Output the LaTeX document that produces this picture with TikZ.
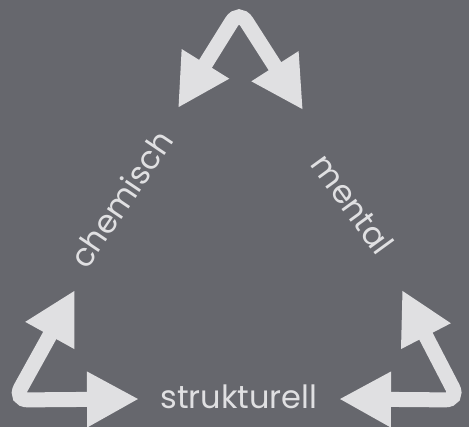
\documentclass[tikz,border=0pt]{standalone}
\usepackage{fontspec}
\setmainfont{Poppins}
\definecolor{boardgrey}{RGB}{102,103,109}
\definecolor{chalkwhite}{RGB}{224,224,226}
\usetikzlibrary{arrows.meta}
\tikzset{
  chalktip/.tip={Triangle[length=52pt, width=52pt]},
  chalkarrow/.style={draw=chalkwhite, line width=15pt, rounded corners=14pt, chalktip-chalktip},
  chalklabel/.style={text=chalkwhite, font=\fontsize{32}{36}\selectfont, inner sep=0pt}
}

\begin{document}
\begin{tikzpicture}[x=1pt, y=-1pt]
  \fill[boardgrey] (0,0) rectangle (469,427);

  % corner arrows
  \coordinate (topleft) at (178,108);
  \coordinate (topapex) at (239,10);
  \coordinate (topright) at (303,110);
  \draw[chalkarrow] (topleft) -- (topapex) -- (topright);

  \coordinate (lefttip) at (75,290);
  \coordinate (leftcorner) at (14,400);
  \coordinate (leftend) at (139,399);
  \draw[chalkarrow] (lefttip) -- (leftcorner) -- (leftend);

  \coordinate (righttip) at (402,290);
  \coordinate (rightcorner) at (459,400);
  \coordinate (rightend) at (339,399);
  \draw[chalkarrow] (righttip) -- (rightcorner) -- (rightend);

  % labels
  \node[chalklabel, rotate=56] (chem) at (121,199) {chemisch};
  \node[chalklabel, rotate=-54] (ment) at (353,204) {mental};
  \node[chalklabel, anchor=base] (struk) at (239,409) {strukturell};
\end{tikzpicture}
\end{document}
